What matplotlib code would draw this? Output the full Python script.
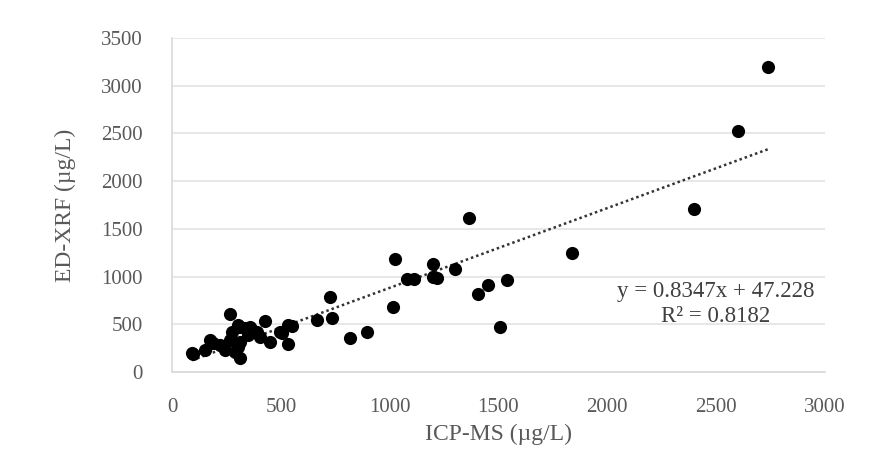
import matplotlib
matplotlib.use("Agg")
import matplotlib.pyplot as plt
import numpy as np

# Data (ICP-MS vs ED-XRF, µg/L)
icp_ms = [2740, 2600, 2400, 1840, 1365, 1025, 1200, 1080, 1110, 1218, 1200, 1301,
          1540, 1453, 1407, 1508, 1016,
          726, 736, 667, 897, 818,
          533, 552, 497, 506, 533, 451, 428, 267, 391, 405, 368, 313, 336, 350,
          313, 276, 267, 304, 290, 313, 244, 221, 189, 175, 152, 97, 92, 359, 304]
ed_xrf = [3200, 2530, 1710, 1250, 1610, 1184, 1132, 975, 970, 985, 1000, 1080,
          964, 912, 818, 472, 681,
          786, 566, 545, 419, 356,
          493, 482, 419, 409, 293, 314, 535, 608, 419, 367, 440, 472, 461, 388,
          314, 419, 335, 262, 210, 147, 231, 283, 304, 335, 231, 189, 200, 472, 493]

slope = 0.8347
intercept = 47.228
r2 = 0.8182

x_ticks = [0, 500, 1000, 1500, 2000, 2500, 3000]
y_ticks = [0, 500, 1000, 1500, 2000, 2500, 3000, 3500]

plt.rcParams['font.family'] = ['Liberation Serif', 'DejaVu Serif']

fig = plt.figure(figsize=(8.69, 4.51), dpi=100)
ax = fig.add_axes([0.198, 0.175, 0.751, 0.741])

ax.scatter(icp_ms, ed_xrf, s=90, color='black', zorder=3, linewidths=0)

xs = np.array([min(icp_ms), max(icp_ms)])
ax.plot(xs, slope * xs + intercept, linestyle=(0, (1, 1.2)), color='#333333',
        linewidth=1.8, zorder=2)

ax.set_xlim(0, 3000)
ax.set_ylim(0, 3500)
ax.set_xticks(x_ticks)
ax.set_yticks(y_ticks)
ax.set_xticklabels([str(t) for t in x_ticks])
ax.set_yticklabels([str(t) for t in y_ticks])

ax.yaxis.grid(True, color='#e3e3e3', linewidth=1.2)
ax.set_axisbelow(True)
for s in ['top', 'right']:
    ax.spines[s].set_visible(False)
for s in ['left', 'bottom']:
    ax.spines[s].set_color('#d9d9d9')
    ax.spines[s].set_linewidth(1.2)

ax.tick_params(axis='both', length=0, labelsize=15, colors='#595959')
ax.tick_params(axis='x', pad=19)
ax.tick_params(axis='y', pad=21)

ax.set_xlabel('ICP-MS (µg/L)', fontsize=17, color='#595959')
ax.set_ylabel('ED-XRF (µg/L)', fontsize=17, color='#595959')
ax.xaxis.set_label_coords(0.5, -0.155)
ax.yaxis.set_label_coords(-0.147, 0.5)

ax.text(2500, 713, f'y = {slope}x + {intercept}\nR² = {r2}', fontsize=16.5,
        color='#404040', ha='center', va='center', linespacing=1.2)

fig.savefig('out.png', dpi=100)
